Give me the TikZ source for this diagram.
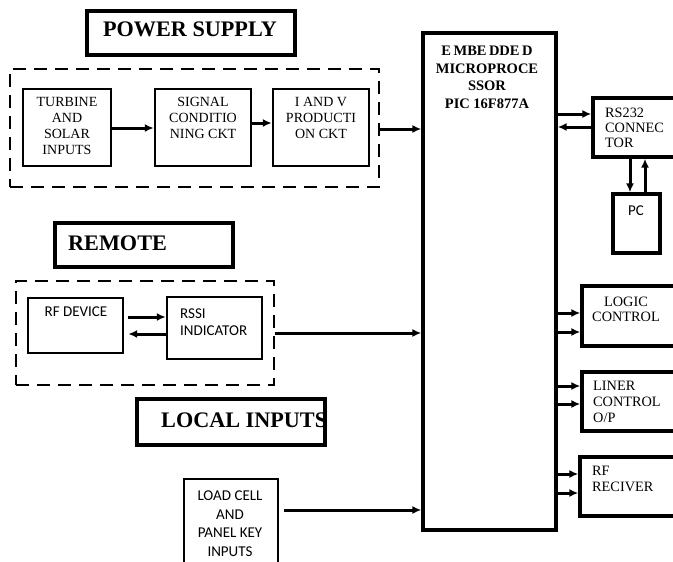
\documentclass[tikz,border=0pt]{standalone}
\usepackage{fontspec}
\setmainfont{Liberation Serif}
\newfontfamily\carl{Carlito}
\usetikzlibrary{fit,arrows.meta}
\begin{document}
\begin{tikzpicture}[x=1pt,y=-1pt,
  bigbox/.style={draw, line width=3.3pt, inner sep=0pt},
  smallbox/.style={draw, line width=2.4pt, inner sep=0pt},
  dbox/.style={draw, line width=2.4pt, dash pattern=on 13pt off 8pt, inner sep=0pt},
  arr/.style={line width=3pt, -{Latex[length=9pt,width=8pt]}},
  title/.style={font=\bfseries\fontsize{22.2}{22}\selectfont, inner sep=0pt},
  sertxt/.style={font=\fontsize{14}{16}\selectfont, inner sep=0pt},
  sanstxt/.style={font=\carl\fontsize{15}{17}\selectfont, inner sep=0pt}
]
\useasboundingbox (0,0) rectangle (673,562);
\clip (0,0) rectangle (673,562);

% boxes
\node[bigbox, fit={(87,11) (295,55)}] (ps) {};
\node[dbox, fit={(10,69) (379,187)}] (d1) {};
\node[smallbox, fit={(23,89) (111,166)}] (tsi) {};
\node[smallbox, fit={(155,89) (251,166)}] (sig) {};
\node[smallbox, fit={(273,89) (369,166)}] (iv) {};
\node[bigbox, fit={(423,33) (556,530)}] (emb) {};
\node[bigbox, fit={(593,98) (690,157)}] (rs) {};
\node[bigbox, fit={(613,194) (660,253)}] (pc) {};
\node[bigbox, fit={(55,223) (233,267)}] (rem) {};
\node[dbox, fit={(16,281) (274,385)}] (d2) {};
\node[smallbox, fit={(28,298) (123,353)}] (rf) {};
\node[smallbox, fit={(167,297) (262,359)}] (rssi) {};
\node[bigbox, fit={(137,399) (325,445)}] (loc) {};
\node[smallbox, fit={(184,479) (278,575)}] (load) {};
\node[bigbox, fit={(582,286) (690,346)}] (lc) {};
\node[bigbox, fit={(582,372) (690,431)}] (lin) {};
\node[bigbox, fit={(580,457) (690,516)}] (rfr) {};

% texts
\node[title, anchor=base] (pst) at (190,37) {POWER SUPPLY};
\node[title, anchor=base west] (remt) at (68,250) {REMOTE};
\node[title, anchor=base west] (loct) at (161,427) {LOCAL INPUTS};
\node[sertxt, anchor=north, align=center] (tsit) at (67,97) {TURBINE\\AND\\SOLAR\\INPUTS};
\node[sertxt, anchor=north, align=center] (sigt) at (203,97) {SIGNAL\\CONDITIO\\NING CKT};
\node[sertxt, anchor=north, align=center] (ivt) at (321,97) {I AND V\\PRODUCTI\\ON CKT};
\node[font=\bfseries\fontsize{14.5}{17.5}\selectfont, inner sep=0pt, anchor=north, align=center] (embt) at (487,46) {E\,MBE\,DDE\,D\\MICROPROCE\\SSOR\\PIC 16F877A};
\node[font=\fontsize{14.3}{15}\selectfont, inner sep=0pt, anchor=north west, align=left] (rst) at (605,108) {RS232\\CONNEC\\TOR};
\node[font=\carl\fontsize{15}{15}\selectfont, inner sep=0pt] (pct) at (636,211) {PC};
\node[sanstxt, anchor=north] (rft) at (76,307) {RF DEVICE};
\node[sanstxt, anchor=north west, align=left] (rssit) at (180,309) {RSSI\\INDICATOR};
\node[sanstxt, anchor=north, align=center, font=\carl\fontsize{15}{18.5}\selectfont] (loadt) at (230,491) {LOAD CELL\\AND\\PANEL KEY\\INPUTS};
\node[font=\fontsize{14.3}{14.5}\selectfont, inner sep=0pt, anchor=north, align=center] (lct) at (626,297) {LOGIC\\CONTROL};
\node[font=\fontsize{14.3}{16}\selectfont, inner sep=0pt, anchor=north west, align=left] (lint) at (593,381) {LINER\\CONTROL\\O/P};
\node[font=\fontsize{14.3}{16}\selectfont, inner sep=0pt, anchor=north west, align=left] (rfrt) at (592,466) {RF\\RECIVER};

% connectors
\draw[arr] (tsi.east |- 0,128) -- (sig.west |- 0,128);
\draw[arr] (sig.east |- 0,123) -- (iv.west |- 0,123);
\draw[arr] (d1.east |- 0,129) -- (emb.west |- 0,129);
\draw[arr] (emb.east |- 0,114) -- (rs.west |- 0,114);
\draw[arr] (rs.west |- 0,127) -- (emb.east |- 0,127);
\draw[arr] (rs.south -| 630,0) -- (pc.north -| 630,0);
\draw[arr] (pc.north -| 645,0) -- (rs.south -| 645,0);
\draw[arr, shorten <=4pt] (rf.east |- 0,317) -- (rssi.west |- 0,317);
\draw[arr, shorten >=4pt] (rssi.west |- 0,334) -- (rf.east |- 0,334);
\draw[arr] (d2.east |- 0,333) -- (emb.west |- 0,333);
\draw[arr, shorten <=5pt] (load.east |- 0,510) -- (emb.west |- 0,510);
\draw[arr] (emb.east |- 0,313) -- (lc.west |- 0,313);
\draw[arr] (emb.east |- 0,332) -- (lc.west |- 0,332);
\draw[arr] (emb.east |- 0,386) -- (lin.west |- 0,386);
\draw[arr] (emb.east |- 0,404) -- (lin.west |- 0,404);
\draw[arr] (emb.east |- 0,474) -- (rfr.west |- 0,474);
\draw[arr] (emb.east |- 0,493) -- (rfr.west |- 0,493);
\end{tikzpicture}
\end{document}
